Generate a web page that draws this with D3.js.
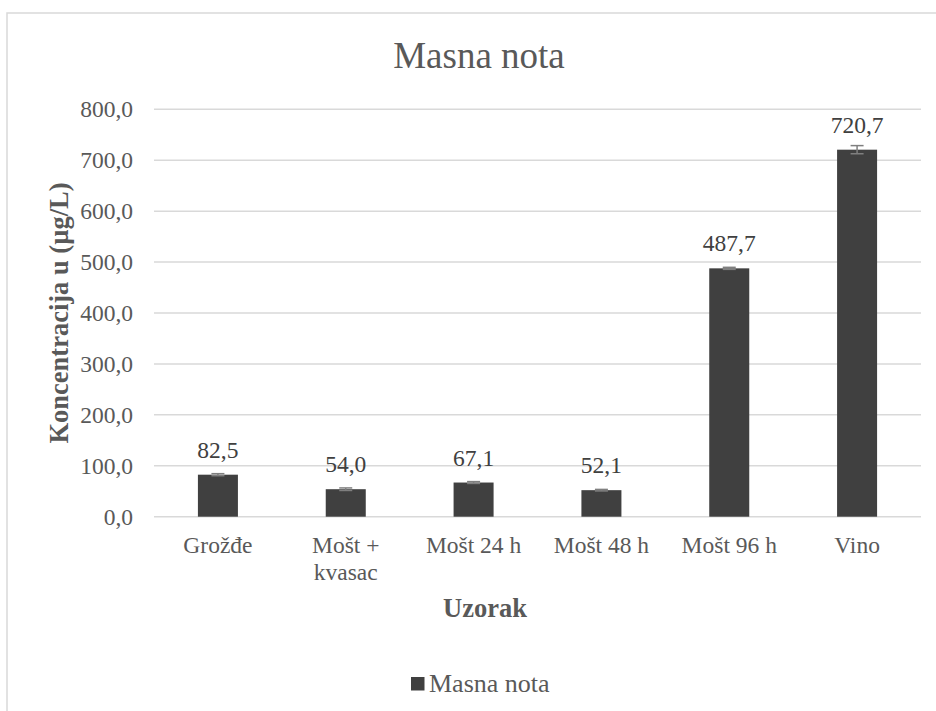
<!DOCTYPE html>
<html>
<head>
<meta charset="utf-8">
<script src="https://cdn.jsdelivr.net/npm/d3@7"></script>
</head>
<body style="margin:0; background:#fff">
<svg id="chart"></svg>
<script>
// data
const categories = ["Grožđe", "Mošt + kvasac", "Mošt 24 h", "Mošt 48 h", "Mošt 96 h", "Vino"];
const values = [82.5, 54.0, 67.1, 52.1, 487.7, 720.7];
const errors = [2.0, 2.5, 1.8, 1.5, 2.0, 8.0];
const yTicks = [0, 100, 200, 300, 400, 500, 600, 700, 800];
const seriesName = "Masna nota";

const FONT = "Liberation Serif";
const W = 936, H = 711;
const margin = { top: 109.3, right: 15, bottom: 194.3, left: 154 },
      width = W - margin.left - margin.right,
      height = H - margin.top - margin.bottom;

const svg = d3.select("#chart").attr("width", W).attr("height", H);

// chart area border (cut off at the right and bottom)
svg.append("rect")
   .attr("x", 7).attr("y", 13)
   .attr("width", 960).attr("height", 720)
   .attr("fill", "none")
   .attr("stroke", "#d9d9d9")
   .attr("stroke-width", 1.5);

const g = svg.append("g").attr("transform", `translate(${margin.left},${margin.top})`);

const x = d3.scaleBand().domain(categories).range([0, width]).paddingInner(0.687).paddingOuter(0.3435);
const y = d3.scaleLinear().domain([0, 800]).range([height, 0]);
const fmt = v => d3.format(".1f")(v).replace(".", ",");

// gridlines
g.append("g")
 .selectAll("line")
 .data(yTicks)
 .enter().append("line")
 .attr("x1", 0).attr("x2", width)
 .attr("y1", d => y(d)).attr("y2", d => y(d))
 .attr("stroke", "#d9d9d9")
 .attr("stroke-width", 1.5);

// y axis labels
const yAxis = g.append("g")
 .call(d3.axisLeft(y).tickValues(yTicks).tickFormat(fmt).tickSize(0).tickPadding(21));
yAxis.attr("font-family", FONT).attr("font-size", null);
yAxis.select(".domain").remove();
yAxis.selectAll("text")
 .attr("fill", "#595959")
 .style("font-size", "23.5px")
 .style("font-family", FONT);

// x axis labels
const xAxis = g.append("g")
 .attr("transform", `translate(0,${height})`)
 .call(d3.axisBottom(x).tickSize(0).tickPadding(0));
xAxis.attr("font-family", FONT).attr("font-size", null);
xAxis.select(".domain").remove();
xAxis.selectAll("text")
 .attr("fill", "#595959")
 .style("font-size", "23.5px")
 .style("font-family", FONT)
 .attr("y", 36.3).attr("dy", null)
 .each(function () { wrap(d3.select(this), x.step() - 4); });

function wrap(text, maxW) {
  const words = text.text().split(/\s+/);
  const yy = text.attr("y");
  text.text(null);
  let line = [], lineNo = 0;
  let tspan = text.append("tspan").attr("x", 0).attr("y", yy);
  words.forEach(w => {
    line.push(w);
    tspan.text(line.join(" "));
    if (tspan.node().getComputedTextLength() > maxW && line.length > 1) {
      line.pop();
      tspan.text(line.join(" "));
      line = [w];
      lineNo++;
      tspan = text.append("tspan").attr("x", 0).attr("y", +yy + lineNo * 27).text(w);
    }
  });
}

// bars
g.selectAll(".bar")
 .data(values)
 .enter().append("rect")
 .attr("class", "bar")
 .attr("x", (d, i) => x(categories[i]))
 .attr("y", d => y(d))
 .attr("width", x.bandwidth())
 .attr("height", d => height - y(d))
 .attr("fill", "#404040");

// error bars
const eb = g.append("g").attr("stroke", "#7f7f7f").attr("stroke-width", 1.5);
values.forEach((v, i) => {
  const cx = x(categories[i]) + x.bandwidth() / 2;
  eb.append("line").attr("x1", cx).attr("x2", cx).attr("y1", y(v + errors[i])).attr("y2", y(v - errors[i]));
  [v + errors[i], v - errors[i]].forEach(e => {
    eb.append("line").attr("x1", cx - 6.5).attr("x2", cx + 6.5).attr("y1", y(e)).attr("y2", y(e));
  });
});

// data labels
g.selectAll(".lbl")
 .data(values)
 .enter().append("text")
 .attr("class", "lbl")
 .attr("x", (d, i) => x(categories[i]) + x.bandwidth() / 2)
 .attr("y", d => y(d) - 17)
 .attr("text-anchor", "middle")
 .attr("fill", "#404040")
 .style("font-family", FONT)
 .style("font-size", "23.5px")
 .text(fmt);

// title
svg.append("text")
 .attr("x", 479).attr("y", 68.3)
 .attr("text-anchor", "middle")
 .attr("fill", "#595959")
 .style("font-family", FONT)
 .style("font-size", "37px")
 .text(seriesName);

// axis titles
svg.append("text")
 .attr("transform", `translate(68,${margin.top + height / 2}) rotate(-90)`)
 .attr("text-anchor", "middle")
 .attr("fill", "#595959")
 .style("font-family", FONT)
 .style("font-size", "26.5px")
 .style("font-weight", "bold")
 .text("Koncentracija u (µg/L)");

svg.append("text")
 .attr("x", 485).attr("y", 616.7)
 .attr("text-anchor", "middle")
 .attr("fill", "#595959")
 .style("font-family", FONT)
 .style("font-size", "26.5px")
 .style("font-weight", "bold")
 .text("Uzorak");

// legend
const leg = svg.append("g");
leg.append("rect").attr("x", 411).attr("y", 677).attr("width", 13.5).attr("height", 13.5).attr("fill", "#404040");
leg.append("text").attr("x", 429).attr("y", 691.7)
 .attr("fill", "#595959")
 .style("font-family", FONT)
 .style("font-size", "26px")
 .text(seriesName);
</script>
</body>
</html>
